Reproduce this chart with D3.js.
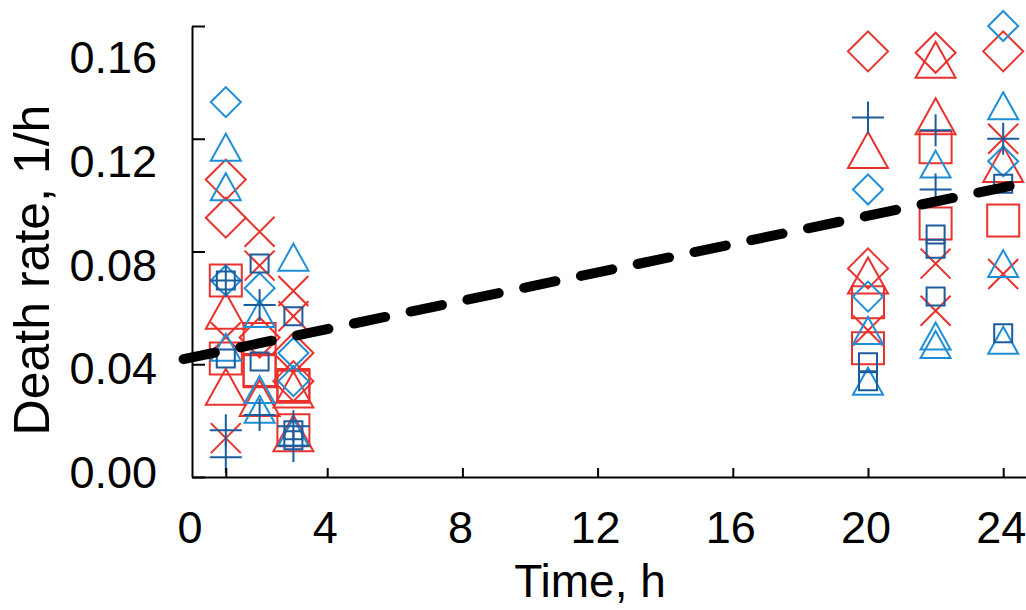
<!DOCTYPE html>
<html>
<head>
<meta charset="utf-8">
<script src="https://cdn.jsdelivr.net/npm/d3@7"></script>
<style>
  body { margin: 0; background: #fff; }
  text { font-family: "Liberation Sans", Arial, sans-serif; fill: #000; }
</style>
</head>
<body>
<div id="chart"></div>
<script>
// chart size
var svgwdth = 1026;
var svghght = 610;

// data: [time h, death rate 1/h]
var redDiamond = [[1,0.1055],[1,0.092],[2,0.0495],[3,0.044],[3,0.034],[20,0.151],[20,0.074],[22,0.1505],[24,0.151]];
var blueDiamond = [[1,0.133],[1,0.0697],[2,0.067],[3,0.044],[3,0.034],[20,0.102],[20,0.064],[24,0.160],[24,0.112]];
var redTriangle = [[1,0.059],[1,0.032],[2,0.028],[3,0.031],[3,0.0155],[20,0.116],[20,0.0715],[22,0.148],[22,0.128],[24,0.111]];
var blueTriangle = [[1,0.117],[1,0.103],[1,0.046],[2,0.058],[2,0.031],[2,0.024],[3,0.078],[3,0.016],[20,0.052],[20,0.034],[22,0.111],[22,0.05],[22,0.047],[24,0.1317],[24,0.0757],[24,0.0485]];
var redSquare = [[1,0.0697],[1,0.042],[2,0.049],[2,0.038],[2,0.0375],[3,0.0326],[3,0.032],[3,0.0166],[20,0.062],[20,0.0457],[22,0.117],[22,0.0899],[24,0.091]];
var blueSquare = [[1,0.0697],[1,0.042],[2,0.0757],[2,0.041],[3,0.057],[3,0.0166],[3,0.013],[20,0.0407],[20,0.034],[22,0.086],[22,0.081],[22,0.064],[24,0.104],[24,0.051]];
var redCross = [[1,0.0496],[1,0.0138],[2,0.087],[2,0.075],[3,0.066],[3,0.057],[20,0.052],[22,0.0757],[22,0.059],[24,0.12],[24,0.072]];
var bluePlus = [[1,0.0697],[1,0.0166],[1,0.007],[2,0.061],[2,0.022],[3,0.018],[3,0.011],[20,0.1275],[22,0.123],[22,0.102],[24,0.120]];

// trend line end points
var trend = [[-0.25, 0.0418], [24.3, 0.1035]];

// ticks
var xTicks = [0, 4, 8, 12, 16, 20, 24];
var xTickMarks = [1, 4, 8, 12, 16, 20, 24];
var yTicks = [0, 0.04, 0.08, 0.12, 0.16];

var red = "#e8322e";
var lightBlue = "#1e8fd6";
var darkBlue = "#1c5c9c";

var svg = d3.select("#chart")
  .append("svg")
  .attr("width", svgwdth)
  .attr("height", svghght);

var xLinearScale = d3.scaleLinear().domain([0, 25]).range([192, 1037]);
var yLinearScale = d3.scaleLinear().domain([0, 0.16]).range([477, 26]);
// tick labels sit on a slightly tighter spacing than the tick marks
var yLabelScale = d3.scaleLinear().domain([0, 0.16]).range([472, 57]);

// marker shapes, s = half size
function shapePath(type, s) {
  var p = d3.path();
  if (type === "diamond") {
    p.moveTo(0, -s); p.lineTo(s, 0); p.lineTo(0, s); p.lineTo(-s, 0); p.closePath();
  } else if (type === "triangle") {
    var h = s * 0.9;
    p.moveTo(0, -h); p.lineTo(s, h); p.lineTo(-s, h); p.closePath();
  } else if (type === "square") {
    p.rect(-s, -s, 2 * s, 2 * s);
  } else if (type === "cross") {
    p.moveTo(-s, -s); p.lineTo(s, s); p.moveTo(s, -s); p.lineTo(-s, s);
  } else if (type === "plus") {
    p.moveTo(-s, 0); p.lineTo(s, 0); p.moveTo(0, -s); p.lineTo(0, s);
  }
  return p.toString();
}

var series = [
  {data: redDiamond, type: "diamond", s: 20, color: red},
  {data: redTriangle, type: "triangle", s: 20, color: red},
  {data: redSquare, type: "square", s: 16, color: red},
  {data: redCross, type: "cross", s: 15, color: red},
  {data: blueDiamond, type: "diamond", s: 15, color: lightBlue},
  {data: blueTriangle, type: "triangle", s: 15, color: lightBlue},
  {data: blueSquare, type: "square", s: 9, color: darkBlue},
  {data: bluePlus, type: "plus", s: 16, color: darkBlue}
];

var plotGroup = svg.append("g");
series.forEach(function(ser) {
  plotGroup.append("g")
    .selectAll("path")
    .data(ser.data)
    .enter()
    .append("path")
    .attr("transform", d => `translate(${xLinearScale(d[0])},${yLinearScale(d[1])})`)
    .attr("d", shapePath(ser.type, ser.s))
    .attr("fill", "none")
    .attr("stroke", ser.color)
    .attr("stroke-width", 2);
});

// dashed trend line
svg.append("path")
  .datum(trend)
  .attr("d", d3.line().x(d => xLinearScale(d[0])).y(d => yLinearScale(d[1])))
  .attr("fill", "none")
  .attr("stroke", "#000")
  .attr("stroke-width", 10)
  .attr("stroke-linecap", "round")
  .attr("stroke-dasharray", "32,26");

// axes
var bottomAxis = d3.axisBottom(xLinearScale).tickValues(xTickMarks).tickSizeInner(-9).tickSizeOuter(0).tickFormat("");
svg.append("g")
  .attr("transform", "translate(0,477)")
  .call(bottomAxis)
  .call(g => g.selectAll("path, line").attr("stroke", "#000").attr("stroke-width", 2));

var leftAxis = d3.axisLeft(yLinearScale).tickValues(yTicks).tickSizeInner(-13).tickSizeOuter(0).tickFormat("");
svg.append("g")
  .attr("transform", "translate(192,0)")
  .call(leftAxis)
  .call(g => g.selectAll("path, line").attr("stroke", "#000").attr("stroke-width", 2));

// tick labels
svg.append("g")
  .selectAll("text")
  .data(yTicks)
  .enter()
  .append("text")
  .attr("x", 157)
  .attr("y", d => yLabelScale(d) + 16)
  .attr("text-anchor", "end")
  .style("font-size", "45px")
  .text(d => d3.format(".2f")(d));

svg.append("g")
  .selectAll("text")
  .data(xTicks)
  .enter()
  .append("text")
  .attr("x", d => xLinearScale(d) - 2)
  .attr("y", 543)
  .attr("text-anchor", "middle")
  .style("font-size", "45px")
  .text(d => d);

// axis titles
svg.append("text")
  .attr("x", 590)
  .attr("y", 597)
  .attr("text-anchor", "middle")
  .style("font-size", "46px")
  .text("Time, h");

svg.append("text")
  .attr("transform", "translate(49,270) rotate(-90)")
  .attr("text-anchor", "middle")
  .style("font-size", "50px")
  .text("Death rate, 1/h");
</script>
</body>
</html>
